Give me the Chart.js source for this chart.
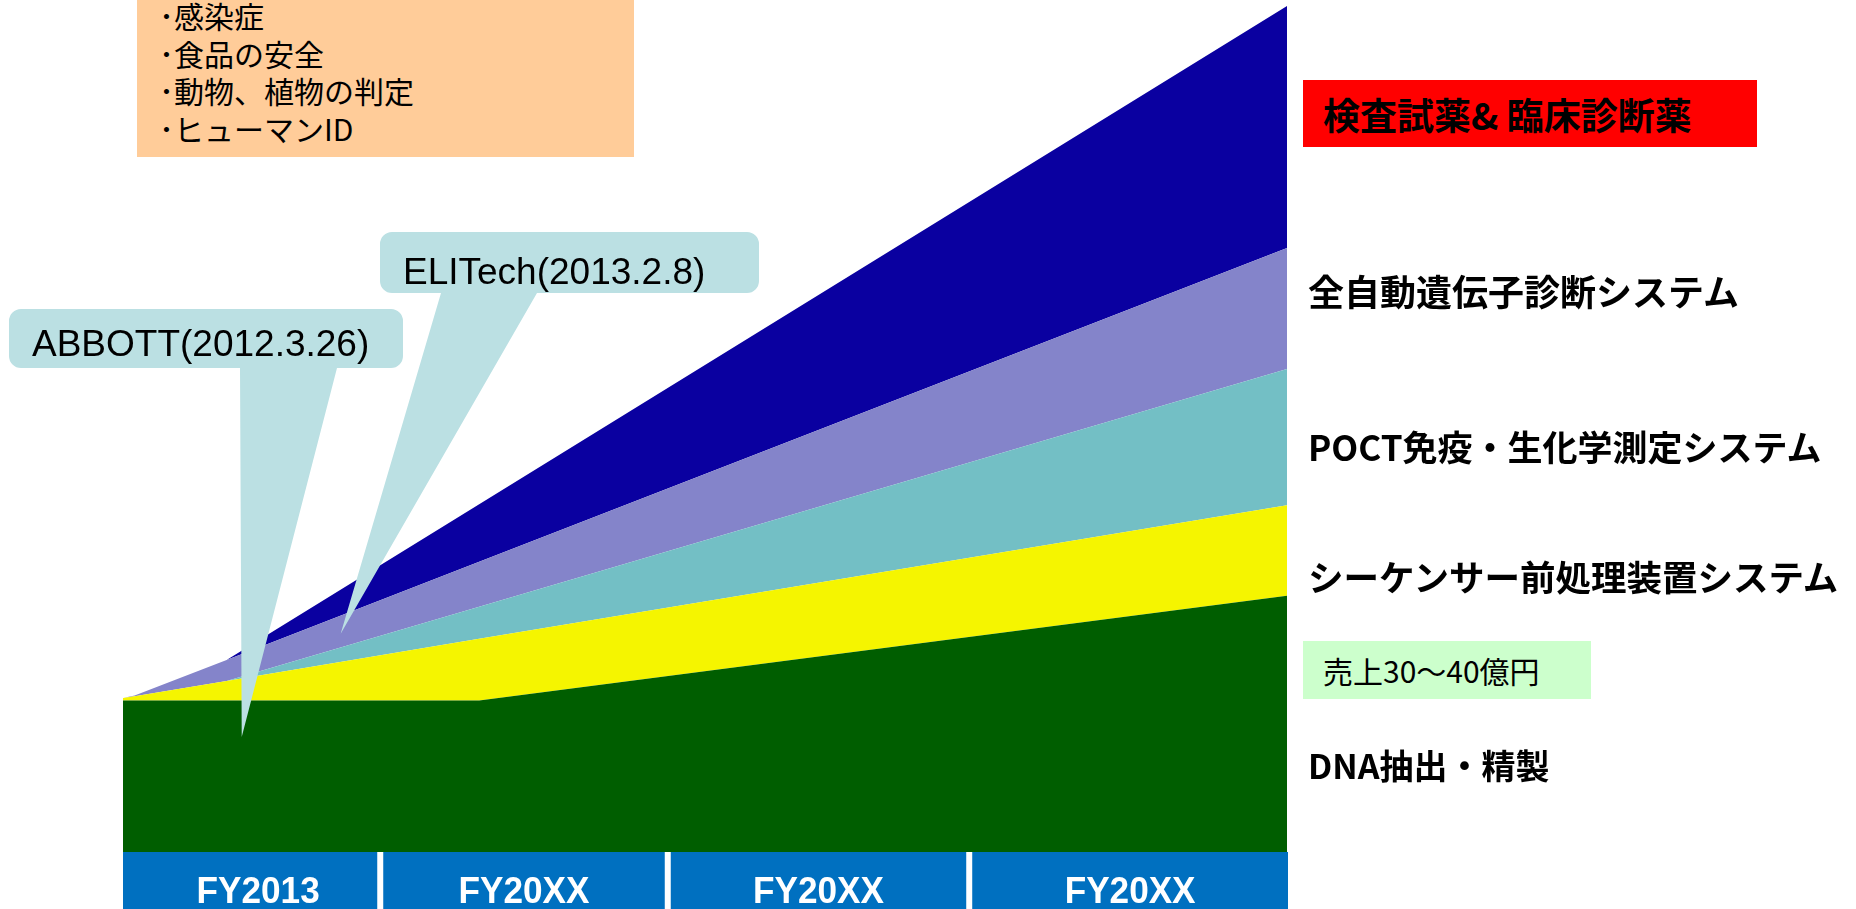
<!DOCTYPE html>
<html lang="ja">
<head>
<meta charset="utf-8">
<title>事業ロードマップ</title>
<script src="https://cdn.jsdelivr.net/npm/chart.js@4.4.1/dist/chart.umd.min.js"></script>
<style>
    html, body { margin: 0; padding: 0; background: #fff; }
    #wrap { position: relative; width: 1856px; height: 909px; overflow: hidden; }
    #growthChart { position: absolute; left: 0; top: 0; }
    .jp { position: absolute; font-family: "Noto Sans CJK JP", sans-serif; color: #000; white-space: nowrap; }
    .lab { font-size: 35px; font-weight: bold; height: 50px; line-height: 50px; left: 1308px; }
    .en { position: absolute; font-family: "Liberation Sans", Arial, sans-serif; font-size: 37px; line-height: 37px; color: #000; white-space: nowrap; }
</style>
</head>
<body>
<div id="wrap">
    <canvas id="growthChart" width="1856" height="909"></canvas>

    <!-- caixa laranja (aplicações) -->
    <div class="jp" style="left:137px;top:0;width:497px;height:157px;background:#FFCC99;">
        <div style="position:absolute;left:22px;top:-3px;font-size:30px;line-height:37.7px;">
            ･感染症<br>･食品の安全<br>･動物、植物の判定<br>･ヒューマンID
        </div>
    </div>

    <!-- textos dos balões -->
    <div class="en" style="left:32px;top:325px;">ABBOTT(2012.3.26)</div>
    <div class="en" style="left:403px;top:253px;">ELITech(2013.2.8)</div>

    <!-- rótulos da direita -->
    <div class="jp" style="left:1303px;top:80px;width:434px;height:65px;line-height:65px;padding:2px 0 0 20px;box-sizing:content-box;background:#FF0000;font-size:37px;font-weight:bold;">検査試薬&amp; 臨床診断薬</div>
    <div class="jp lab" style="top:265px;font-size:36px;">全自動遺伝子診断システム</div>
    <div class="jp lab" style="top:421px;">POCT免疫・生化学測定システム</div>
    <div class="jp lab" style="top:551px;font-size:35.5px;">シーケンサー前処理装置システム</div>
    <div class="jp" style="left:1303px;top:641px;width:268px;height:58px;line-height:58px;padding-left:20px;background:#CCFFCC;font-size:30px;">売上30～40億円</div>
    <div class="jp lab" style="top:740px;font-size:34px;">DNA抽出・精製</div>
</div>

<script>
// === dados (posição no tempo 0..100, camadas empilhadas) ===
const xPoints = [0, 1, 8.9, 30.6, 100];
const dnaValues = [17.9, 17.9, 17.9, 17.9, 30.3];        // DNA抽出・精製
const sequencerValues = [0.3, 0.5, 2.3, 7.3, 10.7];      // シーケンサー前処理装置
const poctValues = [0, 0, 0, 3.8, 16.1];                 // POCT免疫・生化学測定
const geneValues = [0, 0.1, 2.5, 5.3, 14.3];             // 全自動遺伝子診断
const reagentValues = [0, 0, 0, 6.8, 28.6];              // 検査試薬&臨床診断薬

// faixa de anos embaixo
const fyLabels = ["FY2013", "FY20XX", "FY20XX", "FY20XX"];
const fyEdges = [0, 22.1, 46.8, 72.7, 100];

// balões: ponta em coordenadas de dados
const abbottTip = [10.2, 13.6];
const elitechTip = [18.7, 25.8];

function toPoints(values) {
    return xPoints.map((x, i) => ({ x: x, y: values[i] }));
}

// === faixa azul com os anos ===
const fyBarPlugin = {
    id: "fyBar",
    afterDraw(chart) {
        const { ctx, chartArea } = chart;
        const xs = chart.scales.x;
        const top = chartArea.bottom;
        const bottom = chart.height;
        ctx.save();
        fyLabels.forEach((label, i) => {
            const l = xs.getPixelForValue(fyEdges[i]) + (i > 0 ? 3 : 0);
            const r = xs.getPixelForValue(fyEdges[i + 1]) + (i < fyLabels.length - 1 ? -3 : 1);
            ctx.fillStyle = "#0070C0";
            ctx.fillRect(l, top, r - l, bottom - top);
            ctx.save();
            ctx.translate((l + r) / 2 + (i === 0 ? 8 : 0), 903);
            ctx.scale(0.95, 1);
            ctx.fillStyle = "#FFFFFF";
            ctx.font = 'bold 37px "Liberation Sans", Arial, sans-serif';
            ctx.textAlign = "center";
            ctx.textBaseline = "alphabetic";
            ctx.fillText(label, 0, 0);
            ctx.restore();
        });
        ctx.restore();
    }
};

// === balões (forma) ===
function bubble(ctx, box, base, tip) {
    const r = 12;
    ctx.beginPath();
    ctx.moveTo(box.x + r, box.y);
    ctx.lineTo(box.x + box.w - r, box.y);
    ctx.arcTo(box.x + box.w, box.y, box.x + box.w, box.y + r, r);
    ctx.lineTo(box.x + box.w, box.y + box.h - r);
    ctx.arcTo(box.x + box.w, box.y + box.h, box.x + box.w - r, box.y + box.h, r);
    ctx.lineTo(base[1], box.y + box.h);
    ctx.lineTo(tip[0], tip[1]);
    ctx.lineTo(base[0], box.y + box.h);
    ctx.lineTo(box.x + r, box.y + box.h);
    ctx.arcTo(box.x, box.y + box.h, box.x, box.y + box.h - r, r);
    ctx.lineTo(box.x, box.y + r);
    ctx.arcTo(box.x, box.y, box.x + r, box.y, r);
    ctx.closePath();
    ctx.fill();
}

const calloutPlugin = {
    id: "callouts",
    afterDatasetsDraw(chart) {
        const { ctx } = chart;
        const xs = chart.scales.x, ys = chart.scales.y;
        ctx.save();
        ctx.fillStyle = "#BBE0E3";
        bubble(ctx, { x: 380, y: 232, w: 379, h: 61 }, [441, 537],
            [xs.getPixelForValue(elitechTip[0]), ys.getPixelForValue(elitechTip[1])]);
        bubble(ctx, { x: 9, y: 309, w: 394, h: 59 }, [240, 337],
            [xs.getPixelForValue(abbottTip[0]), ys.getPixelForValue(abbottTip[1])]);
        ctx.restore();
    }
};

new Chart(document.getElementById("growthChart"), {
    type: "line",
    data: {
        datasets: [
            { label: "DNA抽出・精製", data: toPoints(dnaValues), backgroundColor: "#005E00", fill: "origin" },
            { label: "シーケンサー前処理装置システム", data: toPoints(sequencerValues), backgroundColor: "#F5F500", fill: "-1" },
            { label: "POCT免疫・生化学測定システム", data: toPoints(poctValues), backgroundColor: "#73BFC5", fill: "-1" },
            { label: "全自動遺伝子診断システム", data: toPoints(geneValues), backgroundColor: "#8484CA", fill: "-1" },
            { label: "検査試薬& 臨床診断薬", data: toPoints(reagentValues), backgroundColor: "#0A00A0", fill: "-1" }
        ]
    },
    options: {
        responsive: false,
        animation: false,
        layout: { padding: { left: 123, right: 569, top: 6, bottom: 57 } },
        scales: {
            x: { type: "linear", min: 0, max: 100, display: false },
            y: { stacked: true, min: 0, max: 100, display: false }
        },
        elements: {
            point: { radius: 0 },
            line: { borderWidth: 0, tension: 0 }
        },
        plugins: {
            legend: { display: false },
            tooltip: { enabled: false }
        }
    },
    plugins: [fyBarPlugin, calloutPlugin]
});
</script>
</body>
</html>
